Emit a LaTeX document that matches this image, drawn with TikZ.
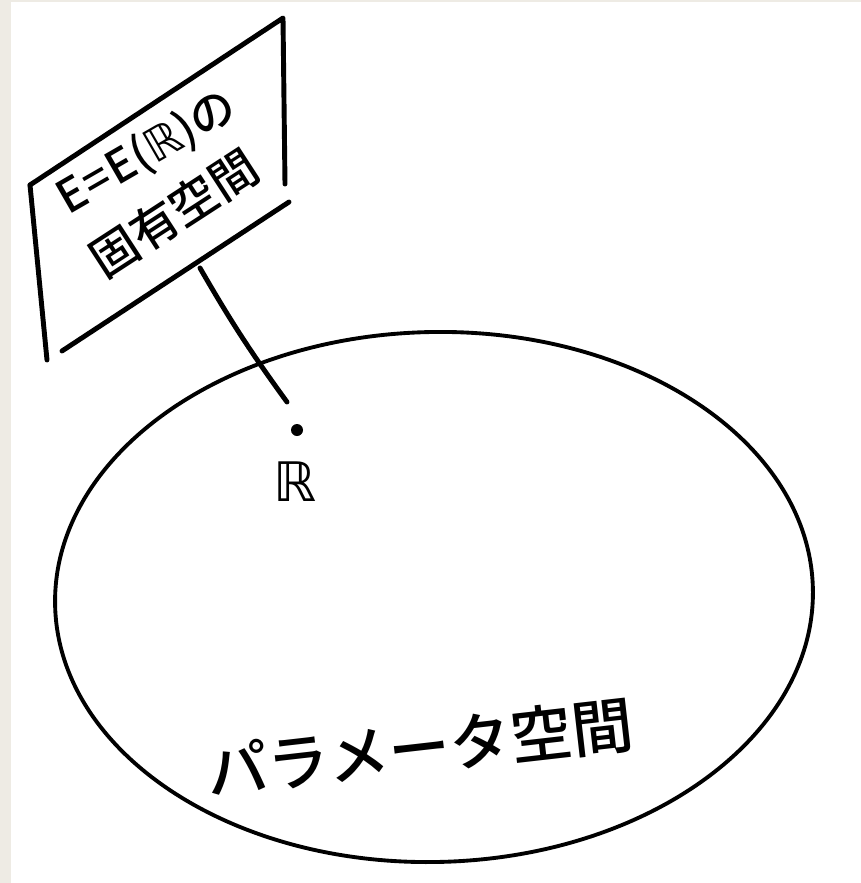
\documentclass[tikz,border=0pt]{standalone}
\usepackage{fontspec}
\usepackage{xcolor}
\usepackage{tikz}
\usetikzlibrary{positioning,calc}
\newfontfamily\jpfont{Noto Sans CJK JP Medium}
\newfontfamily\symfont{DejaVu Sans}
\definecolor{paper}{HTML}{EEEBE4}

\begin{document}
\begin{tikzpicture}[x=0.02cm, y=-0.02cm, line cap=round, line join=round]
          \tikzstyle{pen}=[line width=2.8pt]
          \tikzstyle{thinpen}=[line width=2.2pt]
          \tikzstyle{hand}=[inner sep=0pt, font=\jpfont]
          % page with the grey strip on the left
          \fill[paper] (0,0) rectangle (861,883);
          \fill[white] (11,1.5) rectangle (861,883);
          \useasboundingbox (0,0) rectangle (861,883);
          % sign board
          \coordinate (tl) at (30,185);
          \coordinate (tr) at (283,18);
          \coordinate (rb) at (285,184);
          \coordinate (lb) at (47,360);
          \coordinate (bl) at (62,351);
          \coordinate (br) at (289,202);
          \draw[pen] (tl) -- (tr) -- (rb);
          \draw[pen] (tl) -- (lb);
          \draw[pen] (bl) -- (br);
          \node[hand,rotate=30,font=\jpfont\fontsize{26}{26}\selectfont] (signA) at (147,153) {E{\kern1pt}={\kern1pt}E({\symfont ℝ})の};
          \node[hand,rotate=33,font=\jpfont\fontsize{27}{27}\selectfont] (signB) at (174,213) {固有空間};
          % pole down to the point
          \coordinate (poletop) at (200,268);
          \coordinate (polefoot) at (287,402);
          \draw[pen] (poletop) to[bend right=3] (polefoot);
          \fill (297,430) circle [radius=6] coordinate (pt);
          \node[hand,font=\symfont\fontsize{31}{31}\selectfont] (rlab) at (295,482) {ℝ};
          % parameter space
          \draw[thinpen,rotate around={1.3:(434,597)}] (434,597) ellipse [x radius=379, y radius=265];
          \node[hand,rotate=6.5,font=\jpfont\fontsize{35}{35}\selectfont] (space) at (420,748) {パラメータ空間};
        \end{tikzpicture}
\end{document}
